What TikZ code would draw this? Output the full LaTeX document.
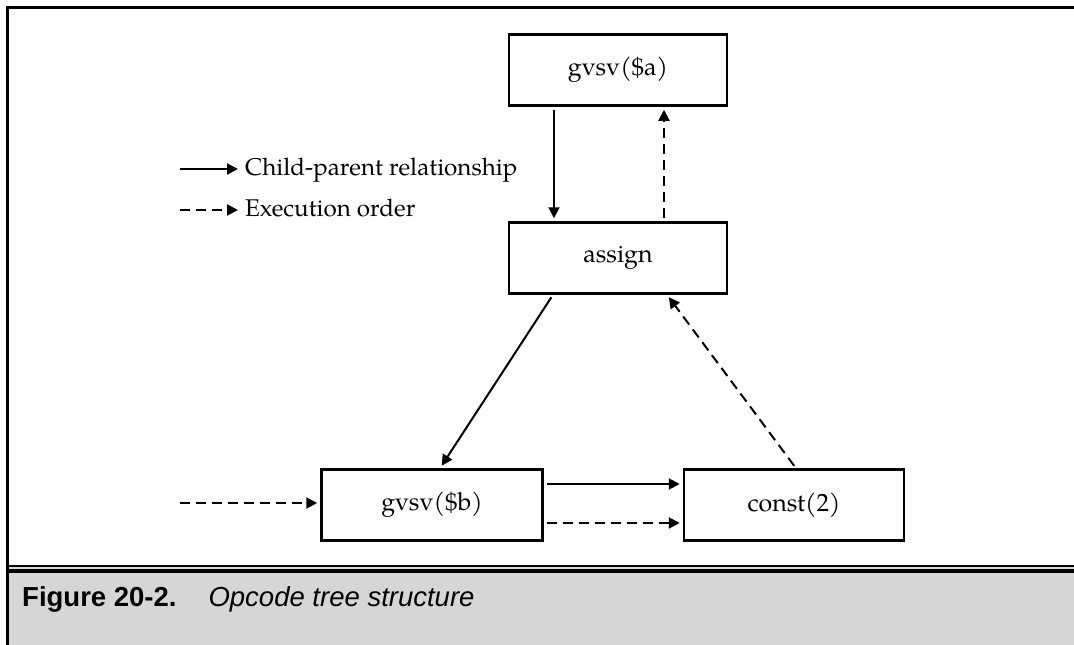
\documentclass[tikz,border=0pt]{standalone}
\usepackage{fontspec}
\setmainfont{TeX Gyre Pagella}
\newfontfamily\capfont{Liberation Sans}
\usepackage{tikz}
\usetikzlibrary{arrows.meta, positioning, calc}

\definecolor{capgray}{RGB}{214,214,214}

\begin{document}
\begin{tikzpicture}[x=1pt, y=-1pt,
    op/.style={draw, line width=2.5pt, minimum width=218pt, minimum height=71pt, inner sep=0pt, font=\fontsize{25}{30}\selectfont},
    child/.style={line width=2pt, -{Triangle[length=11pt, width=11pt]}, shorten <=3pt, shorten >=3pt},
    exec/.style={child, dash pattern=on 10pt off 6pt},
    legend/.style={anchor=base west, inner sep=0pt, font=\fontsize{24.2}{28}\selectfont}]

    \useasboundingbox (0,0) rectangle (1074,645);

    % caption band
    \fill[capgray] (7,567) rectangle (1074,645);
    \draw[line width=2pt] (7,566) -- (1074,566);
    \draw[line width=3.5pt] (7,571) -- (1074,571);
    \draw[line width=3pt] (7,645) -- (7,7) -- (1074,7);
    \node[anchor=base west, inner sep=0pt, font=\fontsize{27.5}{32}\selectfont\capfont] (fig) at (22,606)
        {\textbf{Figure 20-2.}\hspace{32pt}\textit{Opcode tree structure}};

    % opcodes
    \node[op] (ga) at (618,70) {gvsv(\$a)};
    \node[op] (as) at (618,258) {assign};
    \node[op, minimum width=221pt] (gb) at (432,505) {gvsv(\$b)};
    \node[op, minimum width=220pt] (co) at (794,505) {const(2)};

    % legend
    \coordinate (l1s) at (180,169);
    \coordinate (l2s) at (180,210);
    \node[legend] (l1) at (245,175) {Child-parent relationship};
    \node[legend] (l2) at (245,216) {Execution order};
    \draw[child, shorten <=0pt, shorten >=0pt] (l1s) -- (l1s -| 238,0);
    \draw[exec, shorten <=0pt, shorten >=0pt] (l2s) -- (l2s -| 238,0);

    % child-parent links
    \draw[child] ([xshift=-64pt]ga.south) -- ([xshift=-64pt]as.north);
    \draw[child] ([xshift=-65pt]as.south) -- ([xshift=8pt]gb.north);
    \draw[child] ([yshift=21pt]gb.east) -- ([yshift=21pt]co.west);

    % execution order
    \coordinate (start) at (180,503);
    \draw[exec, shorten <=0pt] (start) -- ([yshift=2pt]gb.west);
    \draw[exec] ([yshift=-18pt]gb.east) -- ([yshift=-18pt]co.west);
    \draw[exec] ([xshift=2pt]co.north) -- ([xshift=49pt]as.south);
    \draw[exec] ([xshift=46pt]as.north) -- ([xshift=46pt]ga.south);
\end{tikzpicture}
\end{document}
